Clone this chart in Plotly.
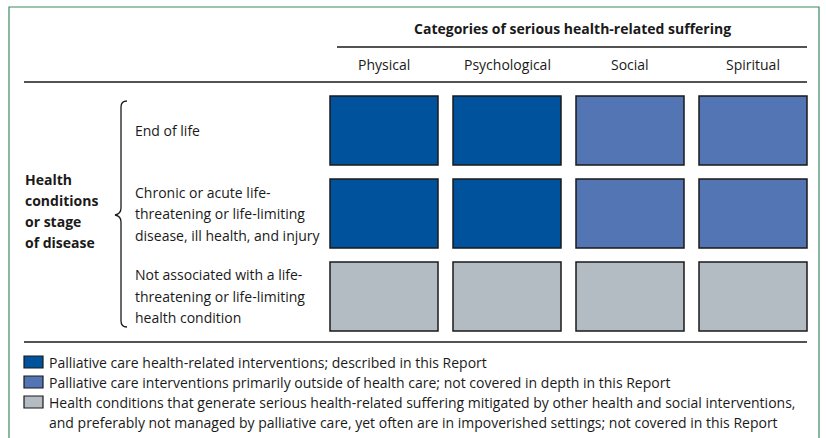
import plotly.graph_objects as go

W, H = 826, 438
FONT = "Open Sans"
FS = 14
INK = "#1a1a1a"

# data
categories = ["Physical", "Psychological", "Social", "Spiritual"]
conditions = [
    ["End of life"],
    ["Chronic or acute life-", "threatening or life-limiting", "disease, ill health, and injury"],
    ["Not associated with a life-", "threatening or life-limiting", "health condition"],
]
group_label = ["Health", "conditions", "or stage", "of disease"]
# 0 = described in report, 1 = outside health care, 2 = other interventions
cell_codes = [
    [0, 0, 1, 1],
    [0, 0, 1, 1],
    [2, 2, 2, 2],
]
legend_labels = [
    ["Palliative care health-related interventions; described in this Report"],
    ["Palliative care interventions primarily outside of health care; not covered in depth in this Report"],
    ["Health conditions that generate serious health-related suffering mitigated by other health and social interventions,",
     "and preferably not managed by palliative care, yet often are in impoverished settings; not covered in this Report"],
]
code_colors = ["#00529c", "#5375b4", "#b4bcc3"]


def px(x):
    return x / W


def py(y):
    return 1 - y / H


def text(t, x, y, bold=False, xanchor="left", xref="paper"):
    return dict(text=f"<b>{t}</b>" if bold else t, xref=xref, yref="paper",
                x=x if xref != "paper" else px(x), y=py(y),
                xanchor=xanchor, yanchor="middle", showarrow=False,
                font=dict(size=FS, color=INK, family=FONT))


fig = go.Figure()

# one bar trace per condition row, placed downward with base
cell_h = 69 / 83
for i, row in enumerate(cell_codes):
    fig.add_trace(go.Bar(
        x=categories,
        y=[cell_h] * len(categories),
        base=[i] * len(categories),
        marker=dict(color=[code_colors[c] for c in row], line=dict(color=INK, width=1.5)),
        showlegend=False,
        hoverinfo="skip",
    ))

shapes = []
annotations = []

# outer green frame
shapes.append(dict(type="rect", xref="paper", yref="paper", x0=px(9), x1=px(819),
                   y0=py(460), y1=py(7), line=dict(color="#3b8a5e", width=1.2)))
# rules
for x0, x1, y in [(337, 807, 47), (24, 807, 82), (24, 807, 342)]:
    shapes.append(dict(type="line", xref="paper", yref="paper", x0=px(x0), x1=px(x1),
                       y0=py(y), y1=py(y), line=dict(color=INK, width=1.3)))

# brace
coords = [(127, 101), (121, 101), (121, 107), (121, 208), (121, 214), (115, 215),
          (121, 216), (121, 222), (121, 321), (121, 327), (127, 327)]
segs = [f"{px(x):.5f},{py(y):.5f}" for x, y in coords]
path = "M {0} Q {1} {2} L {3} Q {4} {5} Q {6} {7} L {8} Q {9} {10}".format(*segs)
shapes.append(dict(type="path", xref="paper", yref="paper", path=path,
                   line=dict(color=INK, width=1.3)))

# title and column labels
annotations.append(text("Categories of serious health-related suffering", 572, 29,
                        bold=True, xanchor="center"))
for c in categories:
    annotations.append(text(c, c, 65, xanchor="center", xref="x"))

# row labels
row_centers = [130.5, 213.5, 296]
for lines, yc in zip(conditions, row_centers):
    n = len(lines)
    for k, ln in enumerate(lines):
        annotations.append(text(ln, 133, yc + (k - (n - 1) / 2) * 21.5))
for k, ln in enumerate(group_label):
    annotations.append(text(ln, 23, 211 + (k - 1.5) * 21, bold=True))

# legend
leg_y = [362, 382, 402]
for k, (lines, yc) in enumerate(zip(legend_labels, leg_y)):
    shapes.append(dict(type="rect", xref="paper", yref="paper", x0=px(24), x1=px(43),
                       y0=py(yc + 6), y1=py(yc - 6), fillcolor=code_colors[k],
                       line=dict(color=INK, width=1.2)))
    for j, ln in enumerate(lines):
        annotations.append(text(ln, 47, yc + j * 20.5))

fig.update_layout(
    width=W, height=H,
    margin=dict(l=0, r=0, t=0, b=0),
    paper_bgcolor="white", plot_bgcolor="white",
    barmode="overlay",
    bargap=15 / 123,
    shapes=shapes, annotations=annotations,
    font=dict(family=FONT, color=INK),
)
fig.update_xaxes(domain=[322.5 / W, 814.5 / W], showticklabels=False, showgrid=False,
                 zeroline=False, fixedrange=True)
fig.update_yaxes(range=[(H - 96) / 83, -96 / 83], showticklabels=False, showgrid=False,
                 zeroline=False, fixedrange=True)

fig.write_html("out.html", config={"displayModeBar": False},
               post_script="document.body.style.margin='0';")
